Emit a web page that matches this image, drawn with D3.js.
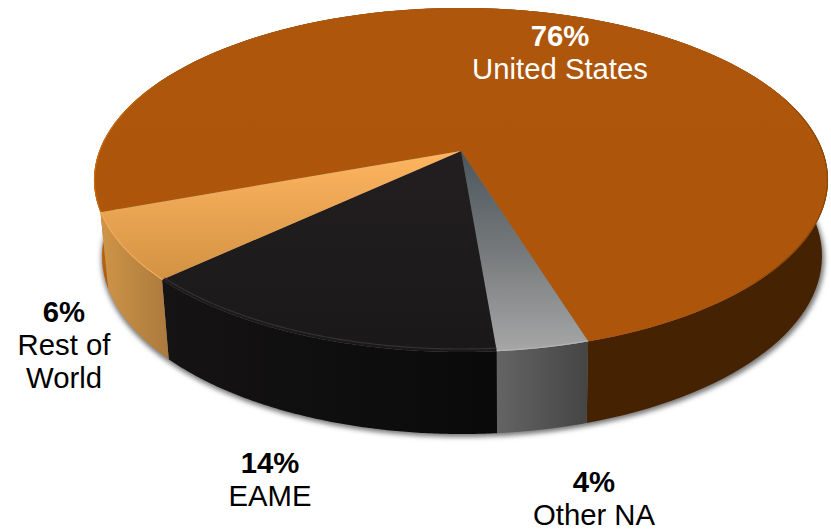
<!DOCTYPE html>
<html>
<head>
<meta charset="utf-8">
<script src="https://cdn.jsdelivr.net/npm/d3@7"></script>
<style>
  html, body { margin: 0; padding: 0; background: #fff; }
  text { font-family: "Liberation Sans", Arial, sans-serif; font-size: 29.3px; }
</style>
</head>
<body>
<div id="chart"></div>
<script>
const categories = ['United States', 'Other NA', 'EAME', 'Rest of World'];
const slice_shares = [75.7, 3.5, 14.5, 6.3];
const percent_labels = ['76%', '4%', '14%', '6%'];
const label_lines = [['United States'], ['Other NA'], ['EAME'], ['Rest of', 'World']];

const width = 831, height = 530;

//top face ellipse, the apex sits behind its centre because of the perspective
const top_ellipse = {cx: 461, cy: 180, rx: 367, ry: 172};
const bottom_ellipse = {cx: 462, cy: 256, rx: 360, ry: 178};
const apex = {x: 461, y: 151};

const svg = d3.select('#chart')
    .append('svg')
    .attr('width', width)
    .attr('height', height);

const defs = svg.append('defs');

//helper for making gradients
function addGradient(id, x1, y1, x2, y2, stops) {
    let g = defs.append('linearGradient')
        .attr('id', id)
        .attr('gradientUnits', 'userSpaceOnUse')
        .attr('x1', x1).attr('y1', y1)
        .attr('x2', x2).attr('y2', y2);
    stops.forEach(function(s) {
        g.append('stop').attr('offset', s[0]).attr('stop-color', s[1]);
    });
}

//top faces
addGradient('top0', 0, 0, 0, 340, [[0, '#ad560c'], [1, '#ad550b']]);
addGradient('top1', 0, 151, 0, 350, [[0, '#4a565c'], [0.5, '#76797b'], [1, '#a6a6a6']]);
addGradient('top2', 0, 151, 0, 350, [[0, '#231f20'], [1, '#1a1819']]);
addGradient('top3', 0, 151, 0, 280, [[0, '#ffb560'], [1, '#d29243']]);
//side walls
addGradient('wall0', 95, 0, 830, 0, [[0, '#c2650f'], [0.03, '#a8560c'], [0.04, '#452302'], [1, '#452302']]);
addGradient('wall1', 497, 0, 590, 0, [[0, '#646464'], [1, '#444444']]);
addGradient('wall2', 165, 0, 497, 0, [[0, '#151314'], [1, '#0a0a0a']]);
addGradient('wall3', 100, 0, 170, 0, [[0, '#d09547'], [1, '#a9793d']]);
//rim of the big slice, bright on the left and darker only at the front right
addGradient('rim0', 95, 180, 780, 300, [[0, '#c86c10'], [0.08, '#ad560c'], [0.93, '#ad560c'], [1.03, '#8a4708']]);

defs.append('filter').attr('id', 'soft')
    .attr('x', '-5%').attr('y', '-5%').attr('width', '110%').attr('height', '110%')
    .append('feGaussianBlur').attr('stdDeviation', 2.5);
defs.append('filter').attr('id', 'bevel')
    .attr('x', '-5%').attr('y', '-5%').attr('width', '110%').attr('height', '110%')
    .append('feGaussianBlur').attr('stdDeviation', 0.7);

let pie = d3.pie()
    .sort(null)
    .startAngle(-109.9 * Math.PI / 180)
    .endAngle(250.1 * Math.PI / 180);

const arcs = pie(slice_shares);

//where the ray from the apex at this pie angle hits the rim of the top ellipse
function rayParam(angle) {
    let py = (apex.y - top_ellipse.cy) / top_ellipse.ry;
    let dx = Math.sin(angle), dy = -Math.cos(angle);
    let b = py * dy;
    let t = -b + Math.sqrt(b * b - (py * py - 1));
    return Math.atan2(t * dx, -(py + t * dy));
}

function onEllipse(e, p) {
    return [e.cx + e.rx * Math.sin(p), e.cy - e.ry * Math.cos(p)];
}

//rim parameters for one slice
function rimParams(d) {
    let p0 = rayParam(d.startAngle);
    let p1 = rayParam(d.endAngle);
    while (p1 < p0) p1 += 2 * Math.PI;
    return d3.range(0, 121).map(function(i) { return p0 + (p1 - p0) * i / 120; });
}

const line = d3.line();

//shadow under the body
svg.append('path')
    .attr('d', line(d3.range(0, 361).map(function(i) {
        let p = onEllipse(bottom_ellipse, i * Math.PI / 180);
        return [p[0] + 1.5 * Math.sin(i * Math.PI / 180) + 1, p[1] + 3];
    })) + 'Z')
    .attr('fill', '#777777')
    .attr('filter', 'url(#soft)');

//side walls
svg.append('g')
    .selectAll('path')
    .data(arcs)
    .enter().append('path')
    .attr('fill', function(d, i) { return `url(#wall${i})`; })
    .attr('d', function(d) {
        let ps = rimParams(d);
        let upper = ps.map(function(p) { return onEllipse(top_ellipse, p); });
        let lower = ps.slice().reverse().map(function(p) { return onEllipse(bottom_ellipse, p); });
        return line(upper.concat(lower)) + 'Z';
    });

//top faces
svg.append('g')
    .selectAll('path')
    .data(arcs)
    .enter().append('path')
    .attr('fill', function(d, i) { return `url(#top${i})`; })
    .attr('d', function(d) {
        let upper = rimParams(d).map(function(p) { return onEllipse(top_ellipse, p); });
        return line([[apex.x, apex.y]].concat(upper)) + 'Z';
    });

//soft bevel along the rim of each top face, the black one sits a bit inside
const bevel_colors = ['url(#rim0)', '#b4b4b4', '#343132', '#f2ab58'];
const bevel_inset = [0.5, 0.5, 3, 0.5];

svg.append('g')
    .selectAll('path')
    .data(arcs)
    .enter().append('path')
    .attr('fill', 'none')
    .attr('stroke', function(d, i) { return bevel_colors[i]; })
    .attr('stroke-width', 1.2)
    .attr('filter', 'url(#bevel)')
    .attr('d', function(d, i) {
        let e = {
            cx: top_ellipse.cx,
            cy: top_ellipse.cy,
            rx: top_ellipse.rx - bevel_inset[i],
            ry: top_ellipse.ry - bevel_inset[i]
        };
        return line(rimParams(d).map(function(p) { return onEllipse(e, p); }));
    });

//labels
const label_pos = [[560, 46], [594, 492], [270, 473], [64, 322]];
const text_color = ['#ffffff', '#000000', '#000000', '#000000'];

const labels = svg.append('g')
    .selectAll('text')
    .data(categories)
    .enter().append('text')
    .attr('text-anchor', 'middle')
    .attr('fill', function(d, i) { return text_color[i]; })
    .attr('transform', function(d, i) { return `translate(${label_pos[i][0]}, ${label_pos[i][1]})`; });

labels.append('tspan')
    .attr('x', 0)
    .attr('font-weight', 'bold')
    .text(function(d, i) { return percent_labels[i]; });

labels.each(function(d, i) {
    let el = d3.select(this);
    label_lines[i].forEach(function(t) {
        el.append('tspan').attr('x', 0).attr('dy', 33).text(t);
    });
});
</script>
</body>
</html>
